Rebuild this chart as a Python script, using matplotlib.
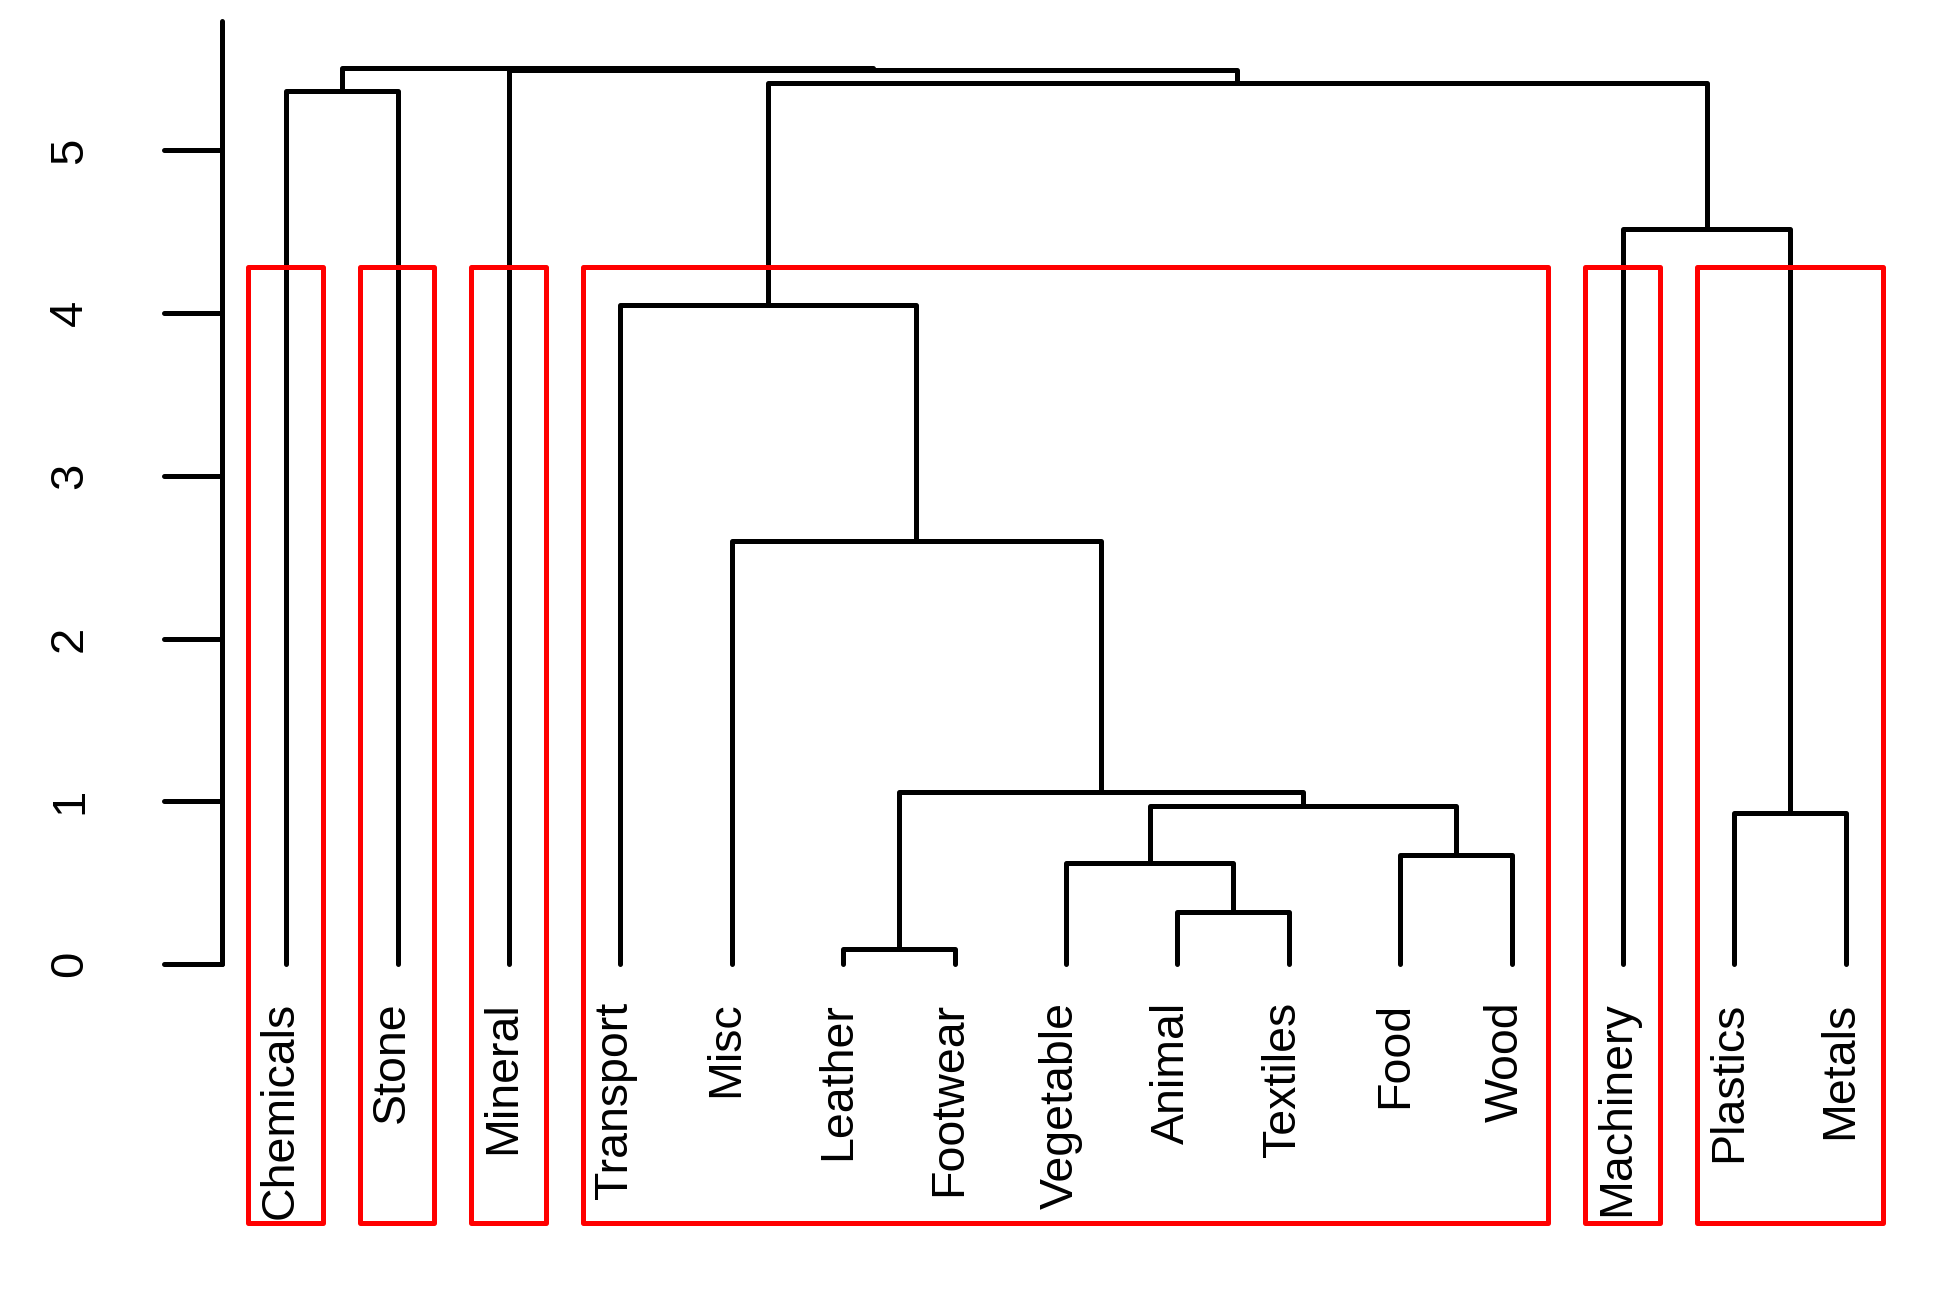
import matplotlib
matplotlib.use('Agg')
import matplotlib.pyplot as plt
from matplotlib.patches import Rectangle

# Leaf labels in dendrogram order
labels = ["Chemicals", "Stone", "Mineral", "Transport", "Misc", "Leather",
          "Footwear", "Vegetable", "Animal", "Textiles", "Food", "Wood",
          "Machinery", "Plastics", "Metals"]

# Merge table (R hclust style: negative = leaf index, positive = earlier merge)
merge_a = [-6, -9, -8, -11, -14, 3, 1, -5, -4, -13, 9, -1, -3, 12]
merge_b = [-7, -10, 2, -12, -15, 4, 6, 7, 8, 5, 10, -2, 11, 13]
merge_h = [0.09, 0.32, 0.62, 0.67, 0.93, 0.97, 1.06, 2.60, 4.05, 4.52,
           5.415, 5.365, 5.495, 5.51]

# Cluster boxes (first leaf, last leaf), k = 7
clusters = [(1, 1), (2, 2), (3, 3), (4, 12), (13, 13), (14, 15)]
cut_height = (merge_h[8] + merge_h[9]) / 2

yticks = [0, 1, 2, 3, 4, 5]

fig = plt.figure(figsize=(19.51, 12.91), dpi=100)
ax = fig.add_axes([0, 0, 1, 1])
ax.set_xlim(-1.569, 15.944)
ax.set_ylim(-2.010, 5.925)
ax.axis('off')

LW = 3.6
FONT = ['Liberation Sans', 'DejaVu Sans']

pos = {}


def node(c):
    if c < 0:
        return (float(-c), 0.0)
    return pos[c]


for i, (a, b, h) in enumerate(zip(merge_a, merge_b, merge_h), 1):
    xa, ha = node(a)
    xb, hb = node(b)
    ax.plot([xa, xa, xb, xb], [ha, h, h, hb], color='black', lw=LW,
            solid_capstyle='round', solid_joinstyle='round', zorder=2)
    pos[i] = ((xa + xb) / 2, h)

# leaf labels
for i, lab in enumerate(labels, 1):
    ax.text(i - 0.05, -0.232, lab, rotation=90, ha='center', va='top',
            fontsize=33.5, family=FONT, color='black', zorder=4)

# red cluster rectangles
usr_bottom = -1.593
for s, e in clusters:
    x0 = s - 0.34
    x1 = e + 0.33
    ax.add_patch(Rectangle((x0, usr_bottom), x1 - x0, cut_height - usr_bottom,
                           fill=False, edgecolor='#ff0000', lw=LW,
                           joinstyle='round', zorder=3))

# y axis
ax_x = 0.426
ax.plot([ax_x, ax_x], [0, 5.798], color='black', lw=LW, solid_capstyle='round')
for t in yticks:
    ax.plot([-0.097, ax_x], [t, t], color='black', lw=LW, solid_capstyle='round')
    ax.text(-0.941, t, str(t), rotation=90, ha='center', va='center',
            fontsize=34, family=FONT, color='black')

fig.savefig('out.png', dpi=100, facecolor='white')
